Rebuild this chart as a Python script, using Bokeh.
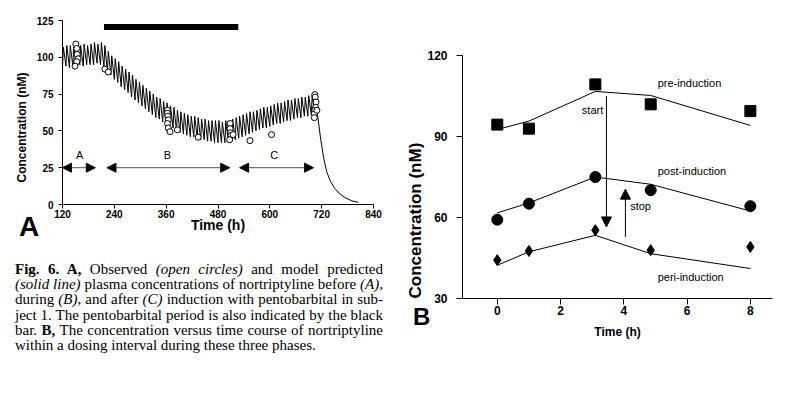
from bokeh.plotting import figure
from bokeh.models import Arrow, NormalHead, Div, FixedTicker, Title
from bokeh.layouts import row, column
from bokeh.embed import file_html
from bokeh.resources import INLINE
from bokeh.core.properties import value

FONT = "Liberation Sans"

# ---------------- Panel A data ----------------
dose_times = [120, 128, 136, 144, 152, 160, 168, 176, 184, 192, 200, 208, 216, 224, 232, 240,
              248, 256, 264, 272, 280, 288, 296, 304, 312, 320, 328, 336, 344, 352, 360, 368,
              376, 384, 392, 400, 408, 416, 424, 432, 440, 448, 456, 464, 472, 480, 488, 496,
              504, 512, 520, 528, 536, 544, 552, 560, 568, 576, 584, 592, 600, 608, 616, 624,
              632, 640, 648, 656, 664, 672, 680, 688, 696, 704]
trough_nM = [93, 94, 93, 94, 94, 95, 94, 95, 95, 95,
             96, 95, 93, 90, 88, 85, 83, 80, 78, 76,
             73, 71, 69, 67, 65, 63, 61, 59, 58, 56,
             54, 53, 52, 50, 49, 48, 47, 46, 46, 45,
             44, 44, 43, 43, 42, 42, 42, 42, 42, 43,
             44, 45, 46, 47, 48, 49, 50, 51, 52, 52,
             53, 54, 55, 55, 56, 57, 57, 58, 59, 59,
             60, 60, 61, 62]
peak_nM = [107, 108, 108, 107, 109, 108, 109, 108, 109, 110,
           109, 110, 108, 104, 101, 99, 97, 94, 92, 90,
           88, 85, 83, 81, 79, 77, 75, 73, 72, 70,
           69, 67, 66, 64, 63, 62, 61, 60, 60, 59,
           58, 58, 57, 57, 57, 57, 56, 57, 57, 58,
           59, 60, 61, 62, 63, 63, 64, 65, 66, 66,
           67, 68, 69, 69, 70, 71, 71, 72, 72, 73,
           73, 74, 74, 75]
rise_h = 2
washout_t = [710, 717, 725, 732, 740, 750, 763, 775, 790, 805]
washout_c = [62, 46, 31, 22, 16, 11, 7, 4.5, 2.5, 1.5]

obs_t = [151, 153, 154, 156, 153, 149, 218, 226,
         363, 363, 364, 365, 363, 365, 369, 386, 434,
         508, 508, 509, 510, 507, 515, 554, 604,
         704, 705, 707, 706, 704, 703, 703, 709]
obs_c = [109, 106, 102, 99, 97, 94, 92, 90,
         64, 62, 60, 57.5, 55, 52, 49.5, 50.7, 45.7,
         55, 51.5, 48.7, 47, 44, 47.5, 43.4, 47.5,
         74.7, 73, 69.6, 66, 64, 61.6, 59, 64]

phase_names = ["A", "B", "C"]
phase_start = [120, 223, 530]
phase_end = [196, 507, 701]
phase_label_t = [160, 363, 610]
phase_level = 25
phase_label_c = 33.5

pento_start, pento_end, pento_level = 216, 527, 120.5

a_xticks = [120, 240, 360, 480, 600, 720, 840]
a_yticks = [0, 25, 50, 75, 100, 125]

# ---------------- Panel B data ----------------
b_t = [0, 1, 3.1, 4.85, 8]
pre_obs = [94.4, 92.9, 109.3, 101.9, 99.4]
post_obs = [59.2, 65.1, 75.0, 70.1, 64.2]
peri_obs = [44.2, 47.6, 55.3, 47.9, 49.1]
pre_fit = [92.6, 95.7, 106.7, 105.2, 94.1]
post_fit = [61.7, 65.4, 75.0, 72.3, 62.4]
peri_fit = [42.3, 47.3, 53.4, 46.6, 41.1]

series_names = ["pre-induction", "post-induction", "peri-induction"]
series_label_c = [110, 77.2, 37.8]
series_label_t = 5.07

start_t, start_from, start_to = 3.45, 105.0, 56.5
stop_t, stop_from, stop_to = 4.05, 52.8, 70.5

b_xticks = [0, 2, 4, 6, 8]
b_yticks = [30, 60, 90, 120]

Y_LABEL = "Concentration  (nM)"
X_LABEL = "Time (h)"


def style_axes(p, tick_size, xlabel_size, tick_out, x_standoff, y_standoff, xlab_standoff):
    for ax in (p.xaxis[0], p.yaxis[0]):
        ax.axis_line_color = "black"
        ax.axis_line_width = 1
        ax.major_tick_line_color = "black"
        ax.major_tick_out = tick_out
        ax.major_tick_in = 0
        ax.minor_tick_line_color = None
        ax.major_label_text_font = FONT
        ax.major_label_text_font_style = "bold"
        ax.major_label_text_font_size = tick_size
        ax.major_label_text_color = "black"
        ax.axis_label_text_font = FONT
        ax.axis_label_text_font_style = "bold"
        ax.axis_label_text_color = "black"
    p.xaxis[0].axis_label_text_font_size = xlabel_size
    p.xaxis[0].major_label_standoff = x_standoff
    p.yaxis[0].major_label_standoff = y_standoff
    p.xaxis[0].axis_label_standoff = xlab_standoff
    p.grid.visible = False
    p.outline_line_color = None


def y_title(p, size, offset, standoff):
    p.add_layout(Title(text=Y_LABEL, align="left", offset=offset, standoff=standoff,
                       text_font=FONT, text_font_style="bold", text_font_size=size,
                       text_color="black"), "left")


# ---------------- Panel A ----------------
pA = figure(frame_width=311, frame_height=184, x_range=(120, 840), y_range=(0, 125),
            min_border_left=62, min_border_right=27, min_border_top=20, min_border_bottom=41,
            toolbar_location=None, output_backend="svg", x_axis_label=X_LABEL)
style_axes(pA, "10px", "14px", 4, 1, 5, -4)
y_title(pA, "12px", 22, 10)
pA.xaxis[0].ticker = FixedTicker(ticks=a_xticks)
pA.yaxis[0].ticker = FixedTicker(ticks=a_yticks)

saw_x, saw_y = [], []
for t, lo, hi in zip(dose_times, trough_nM, peak_nM):
    saw_x += [t, t + rise_h]
    saw_y += [lo, hi]
saw_x += washout_t
saw_y += washout_c
pA.line(saw_x, saw_y, line_color="black", line_width=1)

pA.scatter(obs_t, obs_c, marker="circle", size=6, fill_color="white",
           line_color="black", line_width=1)

pA.segment(x0=[pento_start], y0=[pento_level], x1=[pento_end], y1=[pento_level],
           line_color="black", line_width=6, line_cap="butt")

for s, e in zip(phase_start, phase_end):
    pA.add_layout(Arrow(x_start=s, y_start=phase_level, x_end=e, y_end=phase_level,
                        line_color="#555555", line_width=1,
                        start=NormalHead(size=9, fill_color="black", line_color="black"),
                        end=NormalHead(size=9, fill_color="black", line_color="black")))
pA.text(x=phase_label_t, y=[phase_label_c] * 3, text=phase_names,
        text_font=value(FONT), text_font_size="11px", text_align="center",
        text_baseline="middle", text_color="black")

# ---------------- Caption (with the panel letters) ----------------
cap_lines = [
    "<b>Fig. 6. A,</b> Observed <i>(open circles)</i> and model predicted",
    "<i>(solid line)</i> plasma concentrations of nortriptyline before <i>(A)</i>,",
    "during <i>(B)</i>, and after <i>(C)</i> induction with pentobarbital in sub-",
    "ject 1. The pentobarbital period is also indicated by the black",
    "bar. <b>B,</b> The concentration versus time course of nortriptyline",
    "within a dosing interval during these three phases.",
]
line_style = "text-align:justify;text-align-last:justify;white-space:nowrap;"
last_style = "text-align:left;white-space:nowrap;"
lines_html = ''.join(
    f'<div style="{last_style if i == len(cap_lines) - 1 else line_style}">{ln}</div>'
    for i, ln in enumerate(cap_lines))
letter_css = ("position:absolute;font-family:'Liberation Sans';font-weight:bold;"
              "color:#000;white-space:nowrap;")
caption_html = (
    '<div style="position:relative;width:400px;height:130px;overflow:visible;">'
    '<div style="position:absolute;left:15px;top:17px;width:368px;'
    "font-family:'Liberation Serif';font-size:15px;line-height:15.2px;color:#000;\">"
    f'{lines_html}</div>'
    f'<div style="{letter_css}left:19px;top:-32px;font-size:28px;line-height:28px;">A</div>'
    f'<div style="{letter_css}left:413px;top:60px;font-size:24px;line-height:24px;">B</div>'
    '</div>')
caption = Div(text=caption_html, width=400, height=130, margin=0,
              styles={"overflow": "visible"})

# ---------------- Panel B ----------------
pB = figure(frame_width=310, frame_height=243, x_range=(-1.1, 8.7), y_range=(30, 120),
            min_border_left=62, min_border_right=21, min_border_top=55, min_border_bottom=42,
            toolbar_location=None, output_backend="svg", x_axis_label=X_LABEL)
style_axes(pB, "12px", "12px", 6, 1, 9, 7)
y_title(pB, "17px", 0, 0)
pB.xaxis[0].ticker = FixedTicker(ticks=b_xticks)
pB.yaxis[0].ticker = FixedTicker(ticks=b_yticks)
pB.border_fill_color = None
pB.background_fill_color = None

pB.line(b_t, pre_fit, line_color="black", line_width=1)
pB.line(b_t, post_fit, line_color="black", line_width=1)
pB.line(b_t, peri_fit, line_color="black", line_width=1)
pB.scatter(b_t, pre_obs, marker="square", size=11, color="black")
pB.scatter(b_t, post_obs, marker="circle", size=11, color="black")
pB.scatter(b_t, peri_obs, marker="diamond", size=11, color="black")

pB.add_layout(Arrow(x_start=start_t, y_start=start_from, x_end=start_t, y_end=start_to,
                    line_color="black", line_width=1,
                    end=NormalHead(size=10, fill_color="black", line_color="black")))
pB.add_layout(Arrow(x_start=stop_t, y_start=stop_from, x_end=stop_t, y_end=stop_to,
                    line_color="black", line_width=1,
                    end=NormalHead(size=10, fill_color="black", line_color="black")))
pB.text(x=[3.35], y=[100], text=["start"], text_font=value(FONT), text_font_size="11px",
        text_align="right", text_baseline="middle", text_color="black")
pB.text(x=[4.2], y=[64.2], text=["stop"], text_font=value(FONT), text_font_size="11px",
        text_align="left", text_baseline="middle", text_color="black")
pB.text(x=[series_label_t] * 3, y=series_label_c, text=series_names,
        text_font=value(FONT), text_font_size="11px", text_align="left",
        text_baseline="middle", text_color="black")

layout = row(column(pA, caption), pB)
open("out.html", "w").write(file_html(layout, INLINE))
